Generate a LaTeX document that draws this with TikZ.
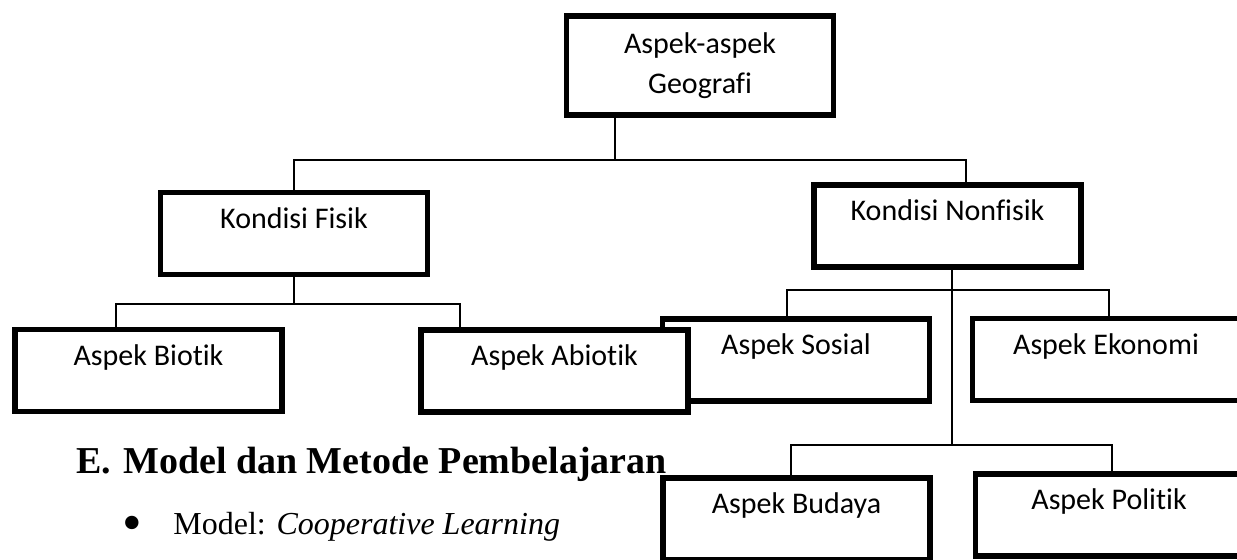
\documentclass[tikz,border=0pt]{standalone}
\usepackage{fontspec}
\setmainfont{Liberation Serif}
\newfontfamily\carlito[Ligatures = {NoCommon}]{Carlito}
\usepackage{tikz}
\usetikzlibrary{calc}
\usetikzlibrary{positioning}

\begin{document}
\begin{tikzpicture}
[
	x = 0.5pt, y = -0.5pt,
	aspek/.style	= {rectangle, draw = black, fill = white, line width = 2.9pt, inner sep = 0pt, minimum width = 133.5pt, minimum height = 41pt, font = \carlito\fontsize{15}{20}\selectfont, align = center},
	leaf/.style	= {aspek, text height = 8pt, text depth = 13.5pt},
	link/.style	= {draw = black, line width = 0.75pt},
	heading/.style	= {anchor = base west, inner sep = 0pt, font = \bfseries\fontsize{19}{23}\selectfont},
	item/.style	= {anchor = base west, inner sep = 0pt, font = \fontsize{16}{19}\selectfont},
]
	\useasboundingbox (0,0) rectangle (1237,559);
	\clip (0,0) rectangle (1237,559);

	\node (geo) [aspek, minimum height = 49.75pt] at (700,65.5) {Aspek-aspek\\Geografi};
	%
	\node (fisik) [leaf] at (294,233.5) {Kondisi Fisik};
	\node (nonfisik) [leaf] at (947.5,226) {Kondisi Nonfisik};
	%
	\node (biotik) [leaf] at (148.5,370.5) {Aspek Biotik};
	\node (sosial) [leaf] at (796,360) {Aspek Sosial};
	\node (abiotik) [leaf] at (554.5,371) {Aspek Abiotik};
	\node (ekonomi) [leaf] at (1106,359.5) {Aspek Ekonomi};
	%
	\node (budaya) [leaf] at (796.5,519) {Aspek Budaya};
	\node (politik) [leaf] at (1109,515) {Aspek Politik};

	% junctions of the bars
	\coordinate (j0) at (615,160);
	\coordinate (j0l) at (294,160);
	\coordinate (j0r) at (966,160);
	\coordinate (j1l) at (116,304);
	\coordinate (j1r) at (460,304);
	\coordinate (j2) at (952,445);
	\coordinate (j2l) at (787,290);
	\coordinate (j2r) at (1109,290);
	\coordinate (j3l) at (791,445);
	\coordinate (j3r) at (1112,445);

	\draw [link] (j0 |- geo.south) -- (j0);
	\draw [link] (j0l |- fisik.north) -- (j0l) -- (j0r) -- (j0r |- nonfisik.north);
	%
	\draw [link] (fisik.south) -- (fisik.south |- j1l);
	\draw [link] (j1l |- biotik.north) -- (j1l) -- (j1r) -- (j1r |- abiotik.north);
	%
	\draw [link] (j2 |- nonfisik.south) -- (j2);
	\draw [link] (j2l |- sosial.north) -- (j2l) -- (j2r) -- (j2r |- ekonomi.north);
	\draw [link] (j3l |- budaya.north) -- (j3l) -- (j3r) -- (j3r |- politik.north);

	\node (judul) [heading] at (76,473) {E.\hspace{6pt}Model dan Metode Pembelajaran};
	\node (bullet) [anchor = base, inner sep = 0pt, font = \fontsize{28}{28}\selectfont] at (132,541.5) {\textbullet};
	\node (model) [item] at (173,534) {Model: \textit{Cooperative Learning}};

\end{tikzpicture}
\end{document}
